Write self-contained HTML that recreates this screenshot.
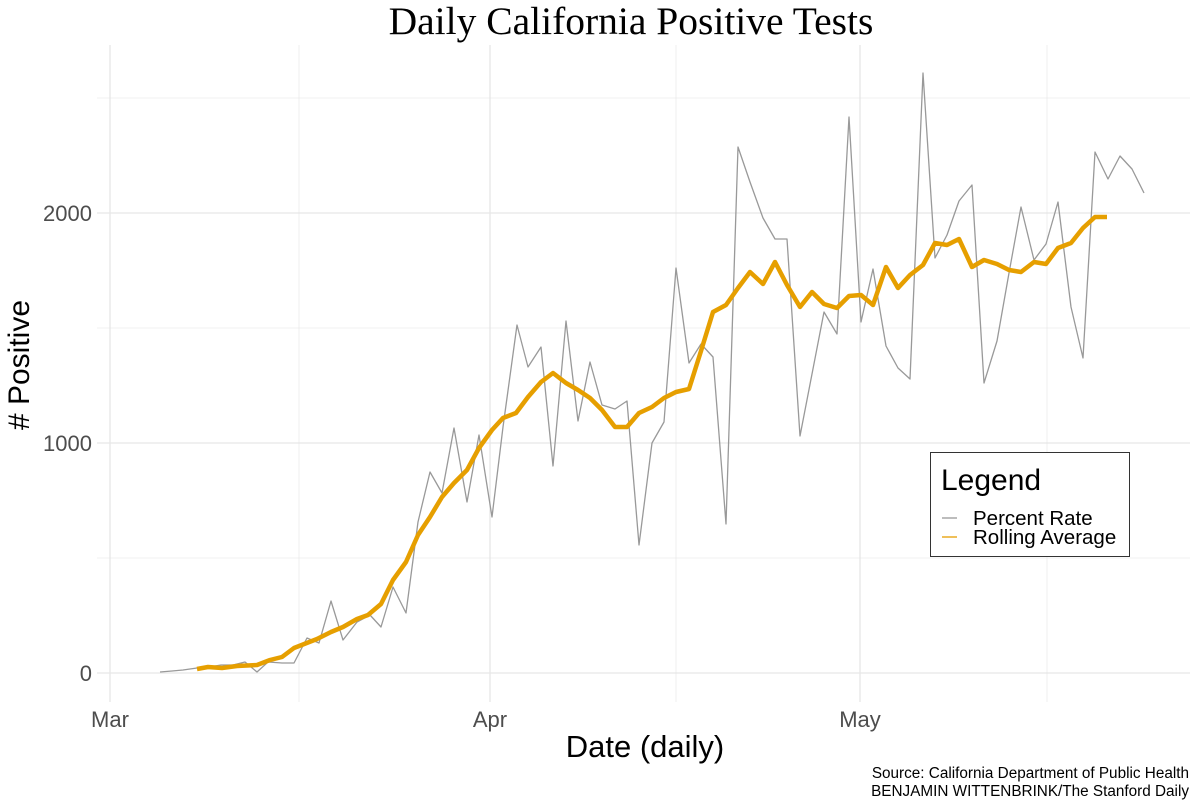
<!DOCTYPE html>
<html><head><meta charset="utf-8"><style>
html,body{margin:0;padding:0;background:#fff;}
svg{display:block;}
</style></head><body>
<svg width="1200" height="804" viewBox="0 0 1200 804" xmlns="http://www.w3.org/2000/svg">
<rect width="1200" height="804" fill="#fff"/>
<g stroke="#ebebeb" stroke-width="0.8">
<line x1="97" y1="98" x2="1190" y2="98"/>
<line x1="97" y1="328" x2="1190" y2="328"/>
<line x1="97" y1="558" x2="1190" y2="558"/>
<line x1="299" y1="45" x2="299" y2="702"/>
<line x1="676" y1="45" x2="676" y2="702"/>
<line x1="1047" y1="45" x2="1047" y2="702"/>
</g>
<g stroke="#e6e6e6" stroke-width="1.3">
<line x1="97" y1="213" x2="1190" y2="213"/>
<line x1="97" y1="443" x2="1190" y2="443"/>
<line x1="97" y1="673" x2="1190" y2="673"/>
<line x1="110" y1="45" x2="110" y2="702"/>
<line x1="490" y1="45" x2="490" y2="702"/>
<line x1="860" y1="45" x2="860" y2="702"/>
</g>
<polyline fill="none" stroke="#999" stroke-width="1.3" stroke-linejoin="round" points="160,672 172,671 183,670 197,668 209,667 221,665 233,665 245,662 257,672 268,662 282,663 294,663 307,638 319,643 331,601 343,640 357,622 370,615 381,627 393,587 406,613 418,522 430,472 442,493 454,428 467,502 479,435 492,517 503,427 517,325 528,367 541,347 553,466 566,321 578,421 590,362 602,405 615,409 627,401 639,545 652,443 664,422 676,268 689,363 701,344 713,357 726,524 738,147 750,182 763,218 775,239 787,239 800,436 812,374 824,312 837,334 849,117 861,322 873,269 886,346 898,368 910,379 923,73 935,258 947,235 959,201 972,185 984,383 997,341 1009,273 1021,207 1034,260 1046,244 1058,202 1071,307 1083,358 1095,152 1108,179 1120,156 1132,169 1144,193"/>
<polyline fill="none" stroke="#e69f00" stroke-width="4.5" stroke-linejoin="round" points="197,669 208,667 222,668 237,666 257,665 270,660 282,657 294,648 317,639 331,632 343,627 357,619 368,615 381,604 393,580 406,562 418,535 430,517 442,497 454,483 467,470 479,448 492,430 503,418 516,413 528,397 541,382 553,373 566,383 578,390 590,398 602,410 615,427 627,427 639,413 652,407 664,398 676,392 689,389 701,351 713,312 726,305 738,288 750,272 763,284 775,262 787,285 800,307 812,292 824,304 837,308 849,296 861,295 873,305 886,267 898,288 910,275 923,265 935,243 947,245 959,239 972,267 984,260 997,264 1009,270 1021,272 1034,262 1046,264 1058,248 1071,243 1083,228 1095,217 1107,217"/>
<g font-family="Liberation Sans, sans-serif" font-size="22" fill="#4d4d4d" text-anchor="end">
<text x="92" y="681">0</text>
<text x="92" y="451">1000</text>
<text x="92" y="221">2000</text>
</g>
<g font-family="Liberation Sans, sans-serif" font-size="22" fill="#4d4d4d" text-anchor="middle">
<text x="110" y="727">Mar</text>
<text x="490" y="727">Apr</text>
<text x="860" y="727">May</text>
</g>
<text x="645" y="757" font-family="Liberation Sans, sans-serif" font-size="31" fill="#000" text-anchor="middle">Date (daily)</text>
<text transform="translate(29,365) rotate(-90)" font-family="Liberation Sans, sans-serif" font-size="30" fill="#000" text-anchor="middle"># Positive</text>
<text x="631" y="34" font-family="Liberation Serif, serif" font-size="39.5" fill="#000" text-anchor="middle">Daily California Positive Tests</text>
<rect x="930.5" y="452.5" width="199" height="104" fill="#fff" stroke="#333" stroke-width="1"/>
<text x="941" y="490" font-family="Liberation Sans, sans-serif" font-size="30" fill="#000">Legend</text>
<line x1="942" y1="518" x2="957" y2="518" stroke="#999" stroke-width="1.3"/>
<line x1="942" y1="537" x2="957" y2="537" stroke="#e69f00" stroke-width="1.3"/>
<g font-family="Liberation Sans, sans-serif" font-size="20.5" fill="#000">
<text x="973" y="525">Percent Rate</text>
<text x="973" y="544">Rolling Average</text>
</g>
<g font-family="Liberation Sans, sans-serif" font-size="15.3" fill="#000" text-anchor="end">
<text x="1189" y="778">Source: California Department of Public Health</text>
<text x="1189" y="796">BENJAMIN WITTENBRINK/The Stanford Daily</text>
</g>
</svg>
</body></html>
